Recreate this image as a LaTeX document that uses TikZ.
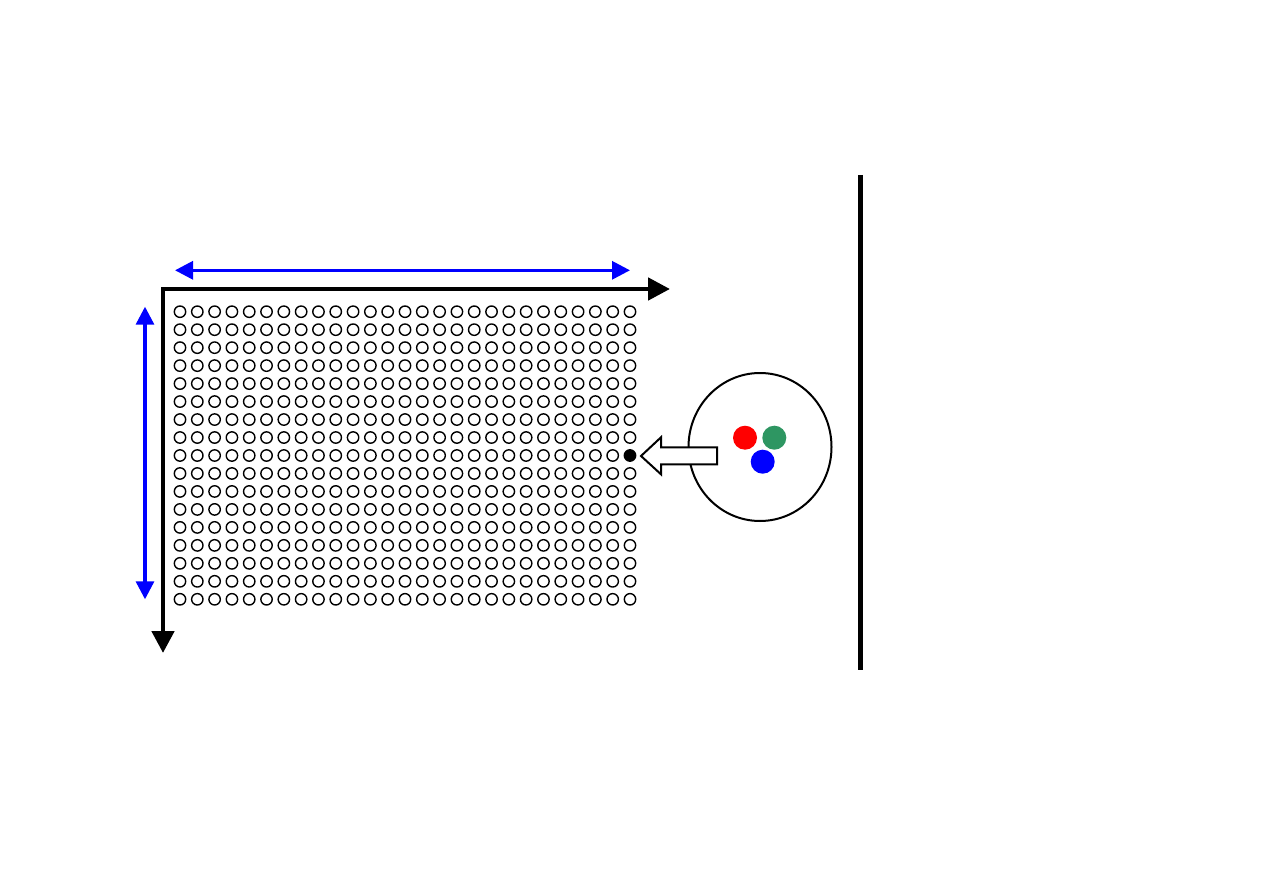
\documentclass[tikz,border=0pt]{standalone}
\usetikzlibrary{arrows.meta,shapes.geometric}
\definecolor{dotgreen}{RGB}{46,150,98}
\begin{document}
\begin{tikzpicture}[x=1pt,y=-1pt,
  axis/.style={line width=4.8pt, line join=miter, {Triangle[length=22pt,width=22pt]}-{Triangle[length=22pt,width=22pt]}},
  dim/.style={line width=3.2pt, blue, {Triangle[length=18pt,width=18pt]}-{Triangle[length=18pt,width=18pt]}},
  cell/.style={circle, draw, line width=1.4pt, minimum size=11.4pt, inner sep=0pt},
  fullcell/.style={cell, fill=black},
  lens/.style={ellipse, draw, line width=2pt, minimum width=143pt, minimum height=148pt, inner sep=0pt},
  emitter/.style={circle, minimum size=24pt, inner sep=0pt},
  pointer/.style={draw, line width=2pt, fill=white, line join=miter},
  wall/.style={line width=5pt}]
\useasboundingbox (0,0) rectangle (1263,893);
% grid of cells
\foreach \r in {0,...,16}{
  \foreach \c in {0,...,26}{
    \ifnum\r=8 \ifnum\c=26
      \node[fullcell] (c-\r-\c) at ({180+\c*17.3077},{311.7+\r*17.975}) {};
    \else
      \node[cell] (c-\r-\c) at ({180+\c*17.3077},{311.7+\r*17.975}) {};
    \fi
    \else
      \node[cell] (c-\r-\c) at ({180+\c*17.3077},{311.7+\r*17.975}) {};
    \fi
  }
}
% axes
\coordinate (xend) at (670,289);
\coordinate (origin) at (163,289);
\coordinate (yend) at (163,653);
\draw[axis] (xend) -- (origin) -- (yend);
% dimension arrows
\coordinate (wl) at (175,270.3);
\coordinate (wr) at (630,270.3);
\draw[dim] (wl) -- (wr);
\coordinate (ht) at (145,306.7);
\coordinate (hb) at (145,599.3);
\draw[dim] (ht) -- (hb);
% lens with emitters
\node[lens] (lens) at (760,447) {};
\node[emitter, fill=red] (red) at (745,437.7) {};
\node[emitter, fill=dotgreen] (green) at (774.3,437.7) {};
\node[emitter, fill=blue] (blue) at (762.7,461.7) {};
% open arrow pointing to the filled cell
\draw[pointer] (717,447.3) -- (661,447.3) -- (661,437.3) -- (641,456) -- (661,474.3) -- (661,464.3) -- (717,464.3) -- cycle;
% wall
\coordinate (wtop) at (860,175);
\coordinate (wbot) at (860,670);
\draw[wall] (wtop) -- (wbot);
\end{tikzpicture}
\end{document}
